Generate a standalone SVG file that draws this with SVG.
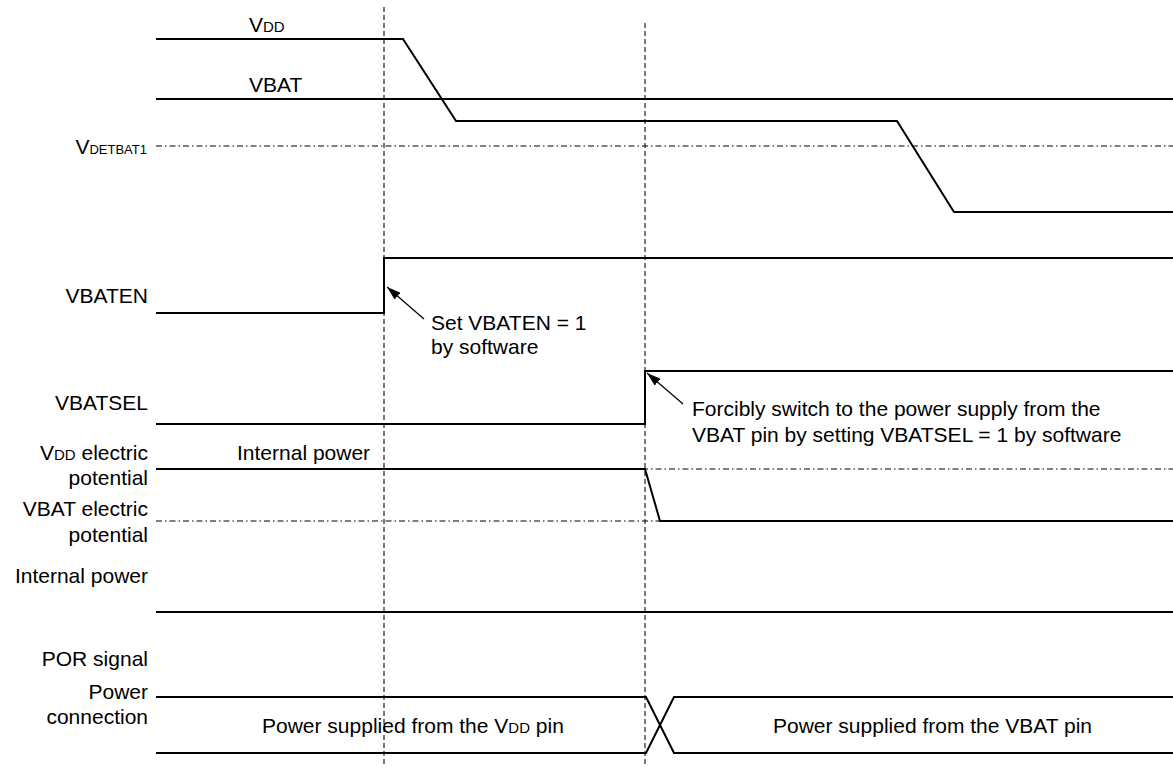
<svg xmlns="http://www.w3.org/2000/svg" width="1173" height="767" viewBox="0 0 1173 767">
<defs>
<style>
text{font-family:"Liberation Sans",Arial,sans-serif;font-size:21px;fill:#000}
.sm{font-size:15px}
.xs{font-size:13px}
.sig{fill:none;stroke:#000;stroke-width:2}
.ref{fill:none;stroke:#000;stroke-width:1;stroke-dasharray:6 3 1.5 3}
.vdash{fill:none;stroke:#333;stroke-width:1.3;stroke-dasharray:5 3}
.lead{fill:none;stroke:#000;stroke-width:1.2}
</style>
<marker id="ah" viewBox="0 0 10 10" refX="10" refY="5" markerWidth="14" markerHeight="9" preserveAspectRatio="none" markerUnits="userSpaceOnUse" orient="auto">
<path d="M0,0 L10,5 L0,10 z" fill="#000"/>
</marker>
</defs>
<rect width="1173" height="767" fill="#fff"/>
<g id="guides">
<line class="vdash" x1="384" y1="7" x2="384" y2="767"/>
<line class="vdash" x1="645" y1="23" x2="645" y2="767"/>
</g>
<g id="vdd">
<polyline class="sig" points="156,39 403,39 456,121 897,121 954,212 1173,212"/>
<text x="249" y="32">V<tspan class="sm">DD</tspan></text>
</g>
<g id="vbat">
<line class="sig" x1="156" y1="99" x2="1173" y2="99"/>
<text x="249" y="92">VBAT</text>
</g>
<g id="vdetbat1">
<line class="ref" x1="156" y1="146" x2="1173" y2="146"/>
<text x="147" y="154" text-anchor="end">V<tspan class="xs">DETBAT1</tspan></text>
</g>
<g id="vbaten">
<polyline class="sig" points="156,313 384,313 384,258 1173,258"/>
<text x="148" y="303" text-anchor="end">VBATEN</text>
<text x="431" y="330">Set VBATEN = 1</text>
<text x="431" y="354">by software</text>
</g>
<g id="vbatsel">
<polyline class="sig" points="156,424 645,424 645,371 1173,371"/>
<text x="148" y="410" text-anchor="end">VBATSEL</text>
<text x="692" y="416">Forcibly switch to the power supply from the</text>
<text x="692" y="442">VBAT pin by setting VBATSEL = 1 by software</text>
</g>
<g id="internal-power-level">
<line class="ref" x1="156" y1="469" x2="1173" y2="469"/>
<line class="ref" x1="156" y1="521" x2="1173" y2="521"/>
<polyline class="sig" points="156,469 645,469 660,521 1173,521"/>
<text x="148" y="460" text-anchor="end">V<tspan class="sm">DD</tspan> electric</text>
<text x="148" y="485" text-anchor="end">potential</text>
<text x="148" y="516" text-anchor="end">VBAT electric</text>
<text x="148" y="542" text-anchor="end">potential</text>
<text x="237" y="460">Internal power</text>
</g>
<g id="internal-power">
<line class="sig" x1="156" y1="612" x2="1173" y2="612"/>
<text x="148" y="583" text-anchor="end">Internal power</text>
</g>
<g id="por-signal">
<text x="148" y="666" text-anchor="end">POR signal</text>
</g>
<g id="power-connection">
<polyline class="sig" points="156,697 646,697 674,753 1173,753"/>
<polyline class="sig" points="156,753 646,753 674,697 1173,697"/>
<text x="148" y="699" text-anchor="end">Power</text>
<text x="148" y="724" text-anchor="end">connection</text>
<text x="262" y="733">Power supplied from the V<tspan class="sm">DD</tspan> pin</text>
<text x="773" y="733">Power supplied from the VBAT pin</text>
</g>
<g id="connectors">
<line class="lead" x1="424" y1="319" x2="387" y2="287" marker-end="url(#ah)"/>
<line class="lead" x1="683" y1="404" x2="647" y2="373" marker-end="url(#ah)"/>
</g>
</svg>
